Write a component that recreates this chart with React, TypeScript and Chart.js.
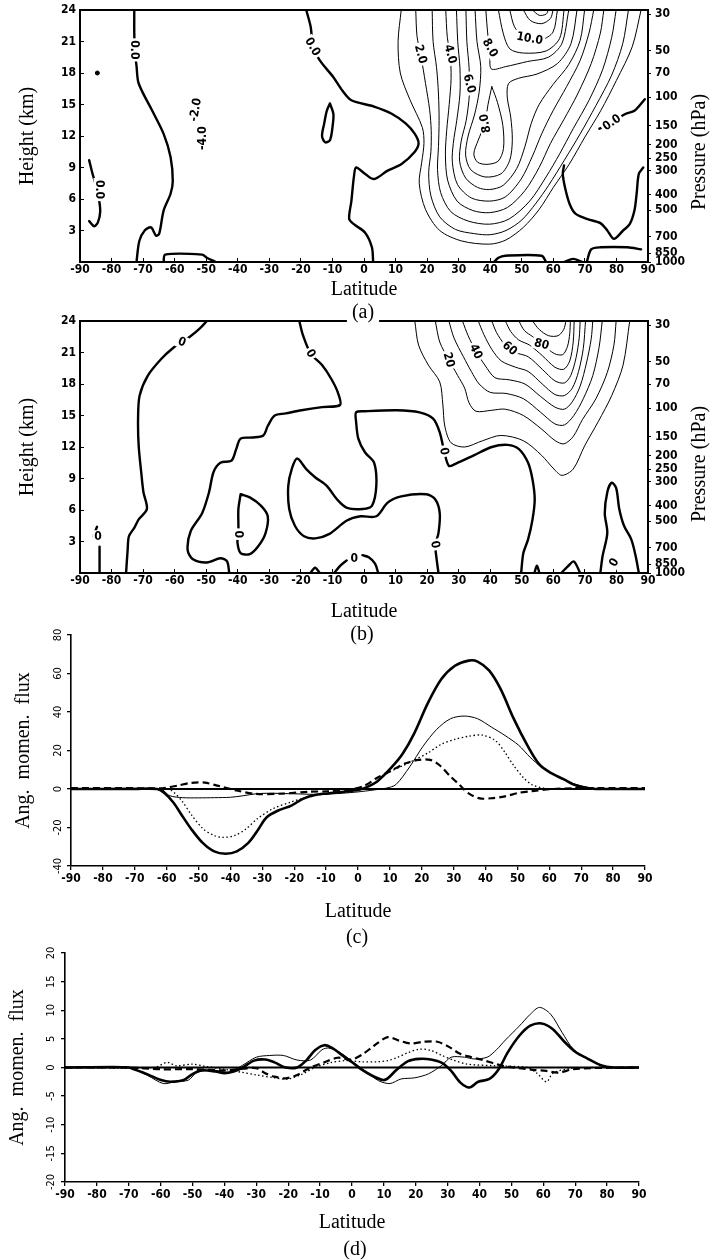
import React, { useEffect, useRef } from 'react';
import { Chart, registerables } from 'chart.js';

Chart.register(...registerables);

type P = [number, number];
type L = [number, number, string, number];

const SERIF = '"Liberation Serif", "Times New Roman", Times, serif';
const NARROW = '"Liberation Sans Narrow", "Arial Narrow", "DejaVu Sans Condensed", "Roboto Condensed", sans-serif';

// ---------------- tick labels ----------------
const LAT_TICKS = [-90, -80, -70, -60, -50, -40, -30, -20, -10, 0, 10, 20, 30, 40, 50, 60, 70, 80, 90];
const HEIGHT_TICKS = [3, 6, 9, 12, 15, 18, 21, 24];
const PRESSURE_LABELS = ['30', '50', '70', '100', '150', '200', '250', '300', '400', '500', '700', '850', '1000'];
const PRESSURE_HEIGHTS = [23.6, 20.1, 18.0, 15.7, 13.0, 11.2, 9.9, 8.7, 6.4, 4.95, 2.4, 0.85, 0.0];
const FLUX_C_TICKS = [-40, -20, 0, 20, 40, 60, 80];
const FLUX_D_TICKS = [-20, -15, -10, -5, 0, 5, 10, 15, 20];

// ---------------- panel (a): contours [lat, height km] ----------------
const A_ZERO_1: P[] = [[-72.8, 24], [-72.8, 21.8], [-72.6, 20], [-72.1, 18.7], [-71.4, 17], [-67.1, 14.4], [-63.5, 12.2], [-61.3, 10], [-60.6, 7.7], [-61.3, 6.5], [-63.5, 4.9], [-64.9, 2.7], [-65.9, 2.5], [-67.5, 3.3], [-69.5, 3.0], [-71.2, 2.0], [-72.1, 0]];
const A_ZERO_2: P[] = [[-87.1, 9.7], [-86.2, 8.6], [-85, 7.3], [-84, 6], [-83.6, 4.8], [-84.3, 3.8], [-85.5, 3.4], [-87.1, 3.9]];
const A_ZERO_3: P[] = [[-18.3, 24], [-16.9, 22.4], [-16.1, 20.5], [-14, 19.2], [-9.7, 17.6], [-6.8, 16.3], [-4, 15.4], [3.2, 14.8], [8.9, 14.1], [13.2, 13.2], [16.1, 12.2], [17.3, 11.3], [16.1, 10.5], [11.8, 9.3], [7.5, 8.7], [3.2, 7.9], [0.3, 8.4], [-2.5, 9.0], [-3.2, 8.1], [-4, 5.8], [-4.7, 4.1], [-3.2, 3.6], [0.3, 2.8], [2.5, 1.4], [2.9, 0]];
const A_ZERO_4: P[] = [[-10.8, 15.1], [-9.7, 14.1], [-10, 12.8], [-10.8, 11.6], [-12.3, 11.4], [-13.3, 12], [-12.6, 13.2], [-11.8, 14.4], [-10.8, 15.1]];
const A_ZERO_5: P[] = [[-63.5, 0], [-63, 0.7], [-51.3, 0.7], [-49.8, 0.4], [-47, 0]];
const A_ZERO_6: P[] = [[89, 15.5], [85.7, 14.4], [82.8, 14.1], [78.5, 13.3], [74.6, 12.7]];
const A_ZERO_7: P[] = [[88.5, 9], [87.1, 8.4], [86.4, 6.5], [85.7, 4.9], [84.2, 3.6], [82.1, 3], [79.2, 2.2], [77.1, 3], [74.9, 3.7], [70.6, 4.1], [67, 4.6], [65.2, 5.5], [63.7, 7.1], [63, 8.4], [63.4, 9.2]];
const A_ZERO_8: P[] = [[41.2, 0], [42.6, 0.4], [44.8, 0.6], [56.3, 0.6], [57.7, 0]];
const A_ZERO_9: P[] = [[63.4, 0], [66.3, 0.3], [69.2, 0]];
const A_ZERO_10: P[] = [[70.6, 0], [72, 1.2], [74.9, 1.4], [83.5, 1.4], [87.8, 1.2]];

const A_C1: P[] = [[11.8, 24], [10.8, 21], [11.5, 18], [14.5, 15.5], [18.5, 12.8], [19, 11.3], [18.3, 9.5], [17.5, 7.5], [19.5, 5], [24, 3], [31, 2], [39.8, 1.7], [45, 2.1], [50.5, 3.3], [55.5, 5], [60, 7.1], [65, 9.3], [70, 11.9], [75, 14.4], [80, 17.3], [85, 20.5], [87.8, 24]];
const A_C2: P[] = [[16.4, 24], [16.8, 21.5], [18, 19.7], [19.5, 17], [20.8, 14.5], [21.3, 12.5], [21.2, 10.5], [20.5, 8.5], [21.2, 6.3], [24, 4.3], [29, 3.1], [35, 2.7], [40, 2.6], [45, 3.0], [50, 4.0], [54.5, 5.6], [58.5, 7.3], [63.5, 9.7], [68.5, 12.2], [73.5, 14.9], [78.5, 17.8], [82, 20.8], [83.8, 24]];
const A_C3: P[] = [[21.6, 24], [21.9, 21], [23, 18.5], [23.6, 16], [23.8, 13.5], [23.6, 11], [23.3, 8.8], [24.3, 6.6], [27.5, 4.8], [33, 3.9], [39.8, 3.6], [46, 4.1], [52.5, 5.8], [57.7, 8.1], [62, 10.3], [66.3, 12.7], [71.3, 15.4], [75.6, 18.3], [78.5, 21.4], [79.9, 24]];
const A_C4: P[] = [[25.9, 24], [26.4, 21.4], [27.3, 19.8], [27.6, 17.5], [27, 15], [26.2, 12.5], [25.8, 10.2], [26.5, 7.8], [29.5, 5.8], [34.5, 4.9], [39.8, 4.7], [45.5, 5.2], [51, 6.8], [55.5, 9], [59.1, 11.3], [63.4, 13.6], [67.7, 16], [72, 18.9], [74.9, 21.8], [76, 24]];
const A_C5: P[] = [[29.3, 24], [29.7, 21], [30.4, 18.5], [30.4, 16], [29.4, 13.5], [28.3, 11.3], [28, 9.5], [29.6, 7.4], [34, 6.1], [39.8, 5.8], [44.8, 6.2], [49.8, 7.9], [53.4, 10.1], [56.3, 12.2], [59.9, 14.4], [64.2, 16.7], [68.5, 19.2], [71.3, 21.8], [72.8, 24]];
const A_C6: P[] = [[32.3, 24], [32.6, 21], [33.3, 18.5], [33.4, 16], [32.4, 13.5], [30.8, 11.5], [30.3, 9.6], [32.2, 8.0], [36, 7.1], [39.8, 6.9], [44.1, 7.3], [48.4, 8.9], [51, 11], [53, 13.2], [55.5, 15], [59.9, 16.9], [64.9, 18.8], [68.5, 21.1], [69.9, 24]];
const A_C7: P[] = [[35.2, 24], [35.8, 21], [37, 18.6], [36.5, 16.2], [35, 14], [33, 12], [32.2, 10.2], [33.8, 8.8], [38.3, 8.1], [43.4, 8.4], [46.2, 9.7], [47, 11.6], [46.5, 13.8], [45.4, 15.7], [45.8, 17], [49, 17.5], [54.8, 17.9], [61.3, 18.9], [65.6, 20.8], [67.5, 24]];
const A_LOOP8: P[] = [[40.5, 16.7], [39.3, 15], [38.3, 13.2], [36.2, 11.6], [34.8, 10.3], [36, 9.5], [39, 9.3], [42.5, 9.6], [44.2, 10.8], [44, 13], [42.3, 15.2], [40.5, 16.7]];
const A_U8: P[] = [[38.6, 24], [39.3, 21.5], [40, 20.2], [40.3, 18.4], [44.8, 18.6], [51.9, 19.1], [58.4, 19.5], [62.7, 20.8], [64.9, 24]];
const A_U9: P[] = [[42.6, 24], [44.1, 21.8], [46.2, 20.3], [50.5, 19.9], [57.7, 20.1], [62, 21.3], [63.4, 24]];
const A_U10: P[] = [[46.2, 24], [47.7, 22.4], [50.5, 21.5], [56.3, 21.2], [59.9, 21.9], [61.3, 24]];
const A_U11: P[] = [[50.5, 24], [52.7, 23], [56.3, 22.7], [59.1, 23.2], [59.9, 24]];
const A_U12: P[] = [[53.4, 24], [55.5, 23.5], [57.7, 23.6], [58.4, 24]];
const A_DOT: P[] = [[-84.5, 18.0]];

const A_LABELS: L[] = [
  [-72.8, 20.2, '0.0', 90], [-83.8, 6.9, '0.0', 90], [-53.4, 14.5, '-2.0', -80], [-51.3, 11.8, '-4.0', -90],
  [-16.3, 20.5, '0.0', 60], [18.0, 19.8, '2.0', 75], [27.4, 19.8, '4.0', 75], [33.4, 17.0, '6.0', 75],
  [40.0, 20.4, '8.0', 60], [52.5, 21.3, '10.0', 10], [38.4, 13.2, '8.0', -100], [78.5, 13.3, '0.0', -35],
];

// ---------------- panel (b): contours [lat, height km] ----------------
const B_ZERO_1: P[] = [[-49.8, 24], [-52, 23.3], [-55.6, 22.4], [-57.7, 22], [-60.6, 21.4], [-64.2, 20.4], [-68.5, 18.8], [-71.1, 16.9], [-71.6, 14.7], [-71.4, 12.1], [-70.6, 9.6], [-69.9, 7.7], [-68.8, 6.1], [-71.4, 5.1], [-72.8, 4.3], [-74.5, 3.5], [-74.9, 2.2], [-75.4, 0]];
const B_ZERO_2: P[] = [[-83.8, 0], [-83.8, 2.5]];
const B_ZERO_2B: P[] = [[-84.6, 4.4], [-85.8, 3.5]];
const B_ZERO_3: P[] = [[-20.5, 24], [-19.4, 22.7], [-16.9, 20.9], [-13.3, 19.8], [-10.4, 18.5], [-8.3, 17.2], [-7.6, 16], [-13.3, 15.8], [-19.8, 15.5], [-24.8, 15.2], [-28.3, 15], [-30.5, 14], [-31.9, 13.1], [-35.5, 12.9], [-39.1, 12.8], [-40.5, 11.8], [-42, 10.7], [-45.5, 10.5], [-47.7, 9.6], [-49.1, 7.7], [-51.3, 5.7], [-54.9, 4], [-55.9, 2.2], [-54.2, 1.3], [-49.8, 1], [-45.5, 1.4], [-43.4, 1.1], [-42.7, 0]];
const B_ZERO_4: P[] = [[-39.1, 7.5], [-36.2, 7.2], [-32.6, 6.4], [-30.5, 5.4], [-31.2, 3.8], [-33.4, 2.6], [-36.2, 1.8], [-39.1, 1.9], [-40.1, 2.9], [-39.8, 3.7], [-39.8, 4.5], [-39.8, 6.1], [-39.1, 7.5]];
const B_ZERO_6: P[] = [[23.6, 0], [22.9, 1.6], [22.6, 2.7], [23.6, 3.8], [24.0, 5.7], [22.6, 7.0], [19.7, 7.5], [11.8, 7.3], [7.5, 6.7], [3.9, 5.4], [-1.1, 5.4], [-5.4, 5.0], [-11.1, 3.7], [-15.4, 3.3], [-19.0, 3.5], [-21.9, 4.5], [-23.7, 6.1], [-24.0, 8.3], [-22.9, 9.9], [-21.2, 10.9], [-18.3, 9.9], [-15.4, 9.1], [-11.8, 8.3], [-8.5, 7.0], [-5.4, 6.2], [-0.4, 6.1], [2.5, 6.4], [3.9, 8.3], [3.2, 10.5], [0.3, 11.5], [-1.8, 12.8], [-2.5, 14.4], [-2.5, 15.3], [0.3, 15.4], [10.4, 15.5], [17.6, 15.3], [21.9, 14.7], [24.0, 13.4], [25.4, 11.6], [26.9, 10.2], [29.0, 10.4], [34.8, 11.2], [40.5, 12.0], [45.5, 12.2], [49.1, 11.8], [52.0, 10.5], [53.4, 8.9], [54.1, 7.0], [53.4, 5.1], [52.0, 3.2], [50.5, 1.9], [49.8, 0]];
const B_ZERO_7: P[] = [[-9.5, 0], [-7.5, 0.7], [-5.5, 1.2]];
const B_ZERO_8: P[] = [[-0.5, 1.7], [1.5, 1.5], [3.5, 0.9], [4.5, 0]];
const B_ZERO_9: P[] = [[74.9, 0], [75.6, 1.6], [77.1, 3.8], [76.3, 5.7], [77.1, 7.7], [78.5, 8.6], [79.9, 8.1], [80.9, 6.1], [82.4, 4.5], [84.7, 3.2], [86.1, 1.6], [87.1, 0]];
const B_BUMP_1: P[] = [[-17, 0], [-15.5, 0.5], [-14, 0]];
const B_BUMP_2: P[] = [[54, 0], [54.8, 0.7], [55.6, 0]];
const B_BUMP_3: P[] = [[62.5, 0], [64.5, 0.6], [66.5, 1.1], [68.5, 0]];

const B_P1: P[] = [[16.1, 24], [17.3, 21.7], [20.4, 19.8], [24, 18.2], [25, 16], [25.6, 14], [27.6, 12.4], [31.9, 12], [37.6, 12.6], [43.4, 13.1], [50.5, 12.6], [56.3, 11.2], [59.9, 10], [62.7, 9.3], [66.3, 9.9], [69.9, 12.1], [74.2, 14.4], [78.5, 16.9], [82.1, 19.8], [84.2, 24]];
const B_P2: P[] = [[22.6, 24], [24, 22], [26.9, 20.3], [29.7, 18.8], [31.9, 17.6], [33.3, 16.2], [35.5, 15.4], [40.5, 15.5], [44.8, 15.6], [50.5, 15], [56.3, 13.7], [60.6, 12.6], [63.4, 12.3], [66.3, 13], [69.2, 14.6], [73.5, 16.6], [77.1, 19.1], [79.2, 21.7], [79.9, 24]];
const B_P3: P[] = [[26.9, 24], [28.5, 22.4], [31.5, 20.6], [34, 19.2], [36.5, 18], [40, 17.2], [45, 17.1], [50.5, 16.6], [56, 15.3], [60.5, 14.2], [63.5, 14.1], [66.5, 15], [69.5, 16.6], [72.5, 18.8], [74.5, 21.5], [75.5, 24]];
const B_P4: P[] = [[31.2, 24], [33, 22.6], [35.5, 21.1], [38.3, 19.8], [41.5, 18.6], [46, 18.4], [51, 18], [56, 16.8], [60.5, 15.8], [63.5, 15.6], [66, 16.3], [68.5, 17.8], [70.5, 20], [72, 22.3], [72.5, 24]];
const B_P5: P[] = [[36.2, 24], [38, 22.7], [40.5, 21.3], [43.5, 20.2], [48, 19.6], [52, 19.2], [56.5, 18], [60.5, 17], [63.5, 16.9], [66, 17.6], [68, 19.2], [69.5, 21.4], [70.2, 24]];
const B_P6: P[] = [[40.5, 24], [42, 22.9], [44.5, 21.8], [48, 21], [52, 20.6], [56.5, 19.4], [60.5, 18.3], [63.5, 18.1], [65.5, 18.8], [67.2, 20.5], [68.2, 22.4], [68.5, 24]];
const B_P7: P[] = [[44.8, 24], [46.5, 23], [49, 22.2], [52.5, 21.7], [56.5, 20.7], [60.5, 19.6], [63.3, 19.4], [65.2, 20.2], [66.3, 22], [66.6, 24]];
const B_P8: P[] = [[49.1, 24], [50.8, 23.1], [53.5, 22.5], [56.5, 21.8], [60.3, 20.9], [63, 20.8], [64.5, 21.6], [65.2, 22.8], [65.4, 24]];
const B_P9: P[] = [[53.4, 24], [55.5, 23.2], [58.5, 22.6], [61.5, 22.6], [63.3, 23.2], [64, 24]];

const B_LABELS: L[] = [
  [-57.7, 22.0, '0', 20], [-16.9, 20.9, '0', 60], [-84.3, 3.5, '0', 0], [-39.8, 3.7, '0', 90],
  [-3.1, 1.4, '0', 0], [25.4, 11.6, '0', 80], [22.6, 2.7, '0', 80], [79.2, 1.0, '0', -60],
  [26.9, 20.3, '20', 75], [35.5, 21.1, '40', 65], [46.2, 21.4, '60', 40], [56.3, 21.8, '80', 15],
];

// ---------------- panel (c): angular momentum flux [lat, value] ----------------
const C_TOTAL: P[] = [[-90, 0], [-80, 0], [-70, 0], [-63, 0], [-60.8, -2], [-57.9, -7], [-55.1, -14], [-52.2, -21], [-48.7, -28], [-45.1, -32.4], [-41.5, -33.6], [-38, -32.4], [-34.4, -28], [-31.6, -21.8], [-28.7, -14.8], [-25.2, -11.3], [-20.9, -8.6], [-17.3, -5.1], [-13.8, -3.2], [-9.5, -2.3], [-3.8, -1.3], [0.5, -0.3], [3.3, 1.4], [6.2, 4.2], [10.5, 11.2], [14, 18.3], [17.6, 28.8], [21.9, 44.6], [26.1, 57], [30.4, 64], [34.7, 66.7], [37.5, 66.2], [41.1, 61.6], [44.7, 52], [48.9, 36.3], [53.2, 22.4], [56.8, 12.9], [60.3, 8.5], [64.6, 5], [67.5, 2.4], [70.3, 1], [73, 0.3], [76, 0], [90, 0]];
const C_THIN: P[] = [[-90, 0], [-62, 0], [-59, -3.5], [-55, -4.5], [-50, -4.6], [-45, -4.5], [-40, -4.3], [-36, -3.5], [-32, -2.5], [-28, -2.2], [-20, -2.5], [-12, -2.8], [-5, -2.2], [0, -1.5], [5, -0.5], [9, 0.5], [11.9, 2.3], [16.2, 11.5], [20.4, 22.2], [24.7, 31], [29, 36.5], [33.3, 37.9], [37.5, 36.5], [41.8, 32.2], [46.1, 27.8], [50.4, 22.7], [53.9, 16.6], [57.5, 11.4], [61.8, 7.1], [66.1, 3.7], [70.3, 1.5], [74, 0.3], [78, 0], [90, 0]];
const C_DOTTED: P[] = [[-90, 0], [-60, 0], [-57.9, -1.5], [-55.1, -6.5], [-52.2, -13.5], [-48.7, -20.5], [-45.1, -24.2], [-42.3, -25.1], [-38.7, -24.2], [-35.1, -20.7], [-31.6, -15.5], [-26.6, -10.2], [-20.9, -6.7], [-15.2, -4], [-9.5, -2.5], [-0.9, -1], [4.8, 2.5], [9, 8], [13.3, 11.5], [17.6, 15], [21.9, 18.7], [26.1, 23.2], [30.4, 25.8], [34.7, 27.4], [39, 28], [43.2, 25], [46.1, 19], [48.9, 12], [51.8, 6], [54.6, 2.2], [58, 0.5], [62, 0], [90, 0]];
const C_DASHED: P[] = [[-90, 0.5], [-75, 0.5], [-65, 0.3], [-60.8, 0.5], [-56.5, 1.8], [-52.2, 3.2], [-48, 3.3], [-43.7, 1.6], [-38, -0.8], [-32.3, -2.5], [-23.7, -2.4], [-15.2, -1.4], [-9.5, -1.2], [-2.4, -0.2], [1.9, 1.6], [6.2, 6], [10.5, 9.6], [14.7, 13.2], [19, 15.1], [22.6, 15.1], [25.4, 12.6], [29, 6.5], [31.8, 2.2], [34.7, -2.3], [38.2, -4.9], [41.8, -4.8], [46.1, -3.8], [50.4, -2], [54.6, -1.1], [60.3, -0.1], [67.4, 0.4], [75, 0.5], [90, 0.5]];

// ---------------- panel (d): angular momentum flux [lat, value] ----------------
const D_TOTAL: P[] = [[-90, 0], [-75, 0.1], [-70, 0], [-68.4, -0.3], [-64.1, -1.2], [-59.9, -2.2], [-57, -2.5], [-52.8, -2.2], [-49.9, -1.1], [-47.1, -0.5], [-42.8, -0.7], [-40, -1], [-37.1, -0.7], [-34.3, 0], [-30.7, 1.2], [-27.2, 1.4], [-24.3, 0.9], [-20.8, 0], [-17.2, 0], [-14.4, 1.2], [-11.6, 3], [-8.7, 3.9], [-5.9, 3.3], [-3, 2.1], [-0.2, 1], [2.6, -0.2], [6.2, -1.4], [9.8, -2.2], [11.2, -1.9], [14, -0.4], [17.6, 1.1], [21.1, 1.5], [24.7, 1.4], [28.2, 0.8], [31.1, -0.6], [33.9, -2.6], [36.8, -3.5], [39.6, -2.5], [43.1, -2], [46, -0.3], [48.8, 2.6], [52.4, 5.5], [55.9, 7.3], [59.5, 7.7], [63, 6.7], [66.6, 4.5], [70.1, 2.7], [73.7, 1.6], [78, 0.4], [82, 0], [90, 0]];
const D_THIN: P[] = [[-90, 0], [-70, 0], [-64.1, -1.4], [-59.2, -2.8], [-55.6, -2.5], [-51.3, -2.2], [-48.5, -0.8], [-42.8, -0.5], [-38.6, -0.8], [-34.3, 0.4], [-30, 1.8], [-25.8, 2.1], [-21.5, 2.1], [-17.2, 1.3], [-13, 1.3], [-9.4, 3.1], [-7.3, 3.4], [-3.7, 2.6], [-0.2, 1.2], [4.1, -0.6], [8.3, -2.3], [11.9, -2.8], [15.4, -2], [19.7, -1.8], [24, -1.1], [28.2, 0.4], [31.1, 1.8], [35.3, 1.8], [38.2, 1.5], [42.4, 1.8], [45.3, 3.1], [48.1, 4.8], [52.4, 7.2], [55.9, 9.3], [58.8, 10.5], [62.3, 9.3], [65.9, 6.1], [69.4, 3.2], [73.7, 1.6], [78, 0.4], [82, 0], [90, 0]];
const D_DOTTED: P[] = [[-90, 0], [-62, 0], [-58, 0.9], [-55, 0.3], [-50, 0.6], [-46, 0.2], [-40, -0.3], [-35, -0.8], [-30, -1.3], [-24.3, -1.8], [-20.1, -2], [-15.8, -1.2], [-11.6, 0], [-7, 0.8], [-2, 1.2], [3, 1], [8, 1], [11.2, 1.2], [14, 1.7], [17.6, 2.6], [21.1, 3.2], [24.7, 3], [28.2, 2.1], [31.8, 1.3], [36, 0.6], [45, 0.3], [55, 0], [58, -1], [61, -2.5], [63, -1], [68, -0.2], [75, 0], [90, 0]];
const D_DASHED: P[] = [[-90, 0], [-70, 0], [-60, -0.3], [-50, -0.3], [-40, -0.5], [-34, -0.2], [-30, -0.1], [-27.2, -1], [-24.3, -1.6], [-20.8, -1.9], [-17.2, -1.3], [-13, 0], [-8.7, 0.9], [-4.5, 1.7], [-0.2, 1.4], [3.3, 2.3], [6.9, 3.8], [11.2, 5.3], [14.7, 4.7], [18.3, 4.2], [22.5, 4.5], [26.8, 4.5], [30.4, 3.6], [33.9, 2.4], [37.5, 1.8], [41, 1.3], [44.6, 0.7], [48.1, 0.2], [52.4, -0.1], [56.6, -0.4], [60.9, -0.6], [64.5, -0.9], [69.4, -0.3], [75, -0.1], [90, 0]];

const ZERO_LINE: P[] = [[-90, 0], [90, 0]];

// ---------------- helpers ----------------
function lineDs(pts: P[], width: number, dash: number[] = [], tension = 0.3) {
  return {
    data: pts.map((p) => ({ x: p[0], y: p[1] })),
    showLine: true,
    borderColor: '#000',
    backgroundColor: '#000',
    borderWidth: width,
    borderDash: dash,
    borderCapStyle: dash.length ? 'butt' : 'round',
    borderJoinStyle: 'round',
    pointRadius: 0,
    tension,
    fill: false,
    xAxisID: 'x',
    yAxisID: 'y',
  };
}

type TextItem = { text: string; x: number; y: number; rot?: number; font: string; bg?: boolean };

function makeAnnot(labels: L[], labelFont: string, texts: TextItem[]) {
  return {
    id: 'annot',
    afterDatasetsDraw(chart: any) {
      const ctx = chart.ctx;
      const xs = chart.scales.x;
      const ys = chart.scales.y;
      for (const [lat, h, text, rot] of labels) {
        const px = xs.getPixelForValue(lat);
        const py = ys.getPixelForValue(h);
        ctx.save();
        ctx.translate(px, py);
        ctx.rotate((rot * Math.PI) / 180);
        ctx.font = labelFont;
        ctx.textAlign = 'center';
        ctx.textBaseline = 'middle';
        const w = ctx.measureText(text).width;
        ctx.fillStyle = '#fff';
        ctx.fillRect(-w / 2 - 2, -6, w + 4, 12);
        ctx.fillStyle = '#000';
        ctx.fillText(text, 0, 0.5);
        ctx.restore();
      }
    },
    afterDraw(chart: any) {
      const ctx = chart.ctx;
      for (const t of texts) {
        ctx.save();
        ctx.font = t.font;
        ctx.textAlign = 'center';
        ctx.textBaseline = 'middle';
        ctx.translate(t.x, t.y);
        ctx.rotate(((t.rot || 0) * Math.PI) / 180);
        if (t.bg) {
          const w = ctx.measureText(t.text).width;
          ctx.fillStyle = '#fff';
          ctx.fillRect(-w / 2 - 5, -11, w + 10, 22);
        }
        ctx.fillStyle = '#000';
        ctx.fillText(t.text, 0, 0);
        ctx.restore();
      }
    },
  };
}

const tickFont = (size: number, bold = true) => ({ family: NARROW, size, weight: bold ? 'bold' : 'normal' });

function contourConfig(o: {
  thick: P[][]; thin: P[][]; dots?: P[]; labels: L[]; texts: TextItem[];
  padTop: number; xAxisH: number; titlePB: number; yTitlePad: number;
}) {
  const datasets: any[] = [
    ...o.thick.map((p) => lineDs(p, 2.4)),
    ...o.thin.map((p) => lineDs(p, 1)),
  ];
  if (o.dots) {
    datasets.push({ data: o.dots.map((p) => ({ x: p[0], y: p[1] })), pointRadius: 2, backgroundColor: '#000', borderColor: '#000', showLine: false, xAxisID: 'x', yAxisID: 'y' });
  }
  return {
    type: 'scatter',
    data: { datasets },
    options: {
      responsive: false,
      animation: false,
      events: [],
      layout: { padding: { top: o.padTop, left: 0, right: 0, bottom: 0 } },
      plugins: { legend: { display: false }, tooltip: { enabled: false } },
      scales: {
        x: {
          type: 'linear', position: 'bottom', min: -90, max: 90,
          afterBuildTicks: (s: any) => { s.ticks = LAT_TICKS.map((v) => ({ value: v })); },
          afterFit: (s: any) => { s.height = o.xAxisH; s.paddingLeft = 0; s.paddingRight = 0; },
          ticks: { autoSkip: false, minRotation: 0, maxRotation: 0, padding: 5, color: '#000', font: tickFont(12), callback: (v: number) => String(v) },
          grid: { drawOnChartArea: false, drawTicks: true, tickLength: -4, color: '#000', lineWidth: 1 },
          border: { display: true, color: '#000', width: 2 },
          title: { display: true, text: 'Latitude', color: '#000', font: { family: SERIF, size: 20 }, padding: { top: 0, bottom: o.titlePB } },
        },
        xTop: {
          type: 'linear', position: 'top', min: -90, max: 90, display: true,
          afterFit: (s: any) => { s.height = 0; s.paddingLeft = 0; s.paddingRight = 0; },
          ticks: { display: false },
          grid: { drawOnChartArea: false, drawTicks: false },
          border: { display: true, color: '#000', width: 2 },
        },
        y: {
          type: 'linear', position: 'left', min: 0, max: 24,
          afterBuildTicks: (s: any) => { s.ticks = HEIGHT_TICKS.map((v) => ({ value: v })); },
          afterFit: (s: any) => { s.width = 80; s.paddingTop = 0; s.paddingBottom = 0; },
          ticks: { autoSkip: false, padding: 8, color: '#000', font: tickFont(12), callback: (v: number) => String(v) },
          grid: { drawOnChartArea: false, drawTicks: true, tickLength: -4, color: '#000' },
          border: { display: true, color: '#000', width: 2 },
          title: { display: true, text: 'Height (km)', color: '#000', font: { family: SERIF, size: 20 }, padding: { top: o.yTitlePad, bottom: 0 } },
        },
        yP: {
          type: 'linear', position: 'right', min: 0, max: 24,
          afterBuildTicks: (s: any) => { s.ticks = PRESSURE_HEIGHTS.map((v) => ({ value: v })); },
          afterFit: (s: any) => { s.width = 65; s.paddingTop = 0; s.paddingBottom = 0; },
          ticks: { autoSkip: false, padding: 4, color: '#000', font: tickFont(12), callback: (_v: number, i: number) => PRESSURE_LABELS[i] },
          grid: { drawOnChartArea: false, drawTicks: true, tickLength: 3, color: '#000' },
          border: { display: true, color: '#000', width: 2 },
        },
      },
    },
    plugins: [makeAnnot(o.labels, `bold 12px ${NARROW}`, o.texts)],
  };
}

function fluxConfig(o: {
  total: P[]; thin: P[]; dotted: P[]; dashed: P[]; yMin: number; yMax: number; yTicks: number[];
  padTop: number; padRight: number; yWidth: number; xAxisH: number; titlePB: number; yTitlePad: number; yTickPad: number;
  texts: TextItem[];
}) {
  const datasets = [
    lineDs(ZERO_LINE, 2.2, [], 0),
    lineDs(o.dashed, 2.2, [7, 4]),
    lineDs(o.dotted, 1.3, [1.5, 2.5]),
    lineDs(o.thin, 1),
    lineDs(o.total, 2.6),
  ];
  return {
    type: 'scatter',
    data: { datasets },
    options: {
      responsive: false,
      animation: false,
      events: [],
      layout: { padding: { top: o.padTop, left: 0, right: o.padRight, bottom: 0 } },
      plugins: { legend: { display: false }, tooltip: { enabled: false } },
      scales: {
        x: {
          type: 'linear', position: 'bottom', min: -90, max: 90,
          afterBuildTicks: (s: any) => { s.ticks = LAT_TICKS.map((v) => ({ value: v })); },
          afterFit: (s: any) => { s.height = o.xAxisH; s.paddingLeft = 0; s.paddingRight = 0; },
          ticks: { autoSkip: false, minRotation: 0, maxRotation: 0, padding: 2, color: '#000', font: tickFont(12), callback: (v: number) => String(v) },
          grid: { drawOnChartArea: false, drawTicks: true, tickLength: 4, color: '#000', lineWidth: 1.3 },
          border: { display: true, color: '#000', width: 1.6 },
          title: { display: true, text: 'Latitude', color: '#000', font: { family: SERIF, size: 20 }, padding: { top: 0, bottom: o.titlePB } },
        },
        y: {
          type: 'linear', position: 'left', min: o.yMin, max: o.yMax,
          afterBuildTicks: (s: any) => { s.ticks = o.yTicks.map((v) => ({ value: v })); },
          afterFit: (s: any) => { s.width = o.yWidth; s.paddingTop = 0; s.paddingBottom = 0; },
          ticks: { autoSkip: false, minRotation: 90, maxRotation: 90, crossAlign: 'center', padding: o.yTickPad, color: '#000', font: tickFont(11, false), callback: (v: number) => String(v) },
          grid: { drawOnChartArea: false, drawTicks: true, tickLength: 4, color: '#000', lineWidth: 1.3 },
          border: { display: true, color: '#000', width: 1.6 },
          title: { display: true, text: 'Ang.  momen.  flux', color: '#000', font: { family: SERIF, size: 20 }, padding: { top: o.yTitlePad, bottom: 0 } },
        },
      },
    },
    plugins: [makeAnnot([], `12px ${NARROW}`, o.texts)],
  };
}

function ChartCanvas({ top, height, z, build }: { top: number; height: number; z: number; build: () => any }) {
  const ref = useRef<HTMLCanvasElement | null>(null);
  useEffect(() => {
    const chart = new Chart(ref.current as HTMLCanvasElement, build());
    return () => chart.destroy();
  }, []);
  return (
    <canvas
      ref={ref}
      width={713}
      height={height}
      style={{ position: 'absolute', left: 0, top, width: 713, height, zIndex: z, display: 'block' }}
    />
  );
}

const TITLE_FONT = `20px ${SERIF}`;

export default function App() {
  useEffect(() => {
    document.body.style.margin = '0';
    document.body.style.background = '#fff';
  }, []);

  return (
    <div style={{ position: 'relative', width: 713, height: 1260, background: '#fff', overflow: 'hidden' }}>
      <ChartCanvas
        top={0}
        height={326}
        z={4}
        build={() =>
          contourConfig({
            thick: [A_ZERO_1, A_ZERO_2, A_ZERO_3, A_ZERO_4, A_ZERO_5, A_ZERO_6, A_ZERO_7, A_ZERO_8, A_ZERO_9, A_ZERO_10],
            thin: [A_C1, A_C2, A_C3, A_C4, A_C5, A_C6, A_C7, A_LOOP8, A_U8, A_U9, A_U10, A_U11, A_U12],
            dots: A_DOT,
            labels: A_LABELS,
            texts: [
              { text: '(a)', x: 363, y: 313, font: TITLE_FONT, bg: true },
              { text: 'Pressure (hPa)', x: 700, y: 152, rot: -90, font: TITLE_FONT },
            ],
            padTop: 10, xAxisH: 64, titlePB: 24, yTitlePad: 16,
          })
        }
      />
      <ChartCanvas
        top={310}
        height={340}
        z={3}
        build={() =>
          contourConfig({
            thick: [B_ZERO_1, B_ZERO_2, B_ZERO_2B, B_ZERO_3, B_ZERO_4, B_ZERO_6, B_ZERO_7, B_ZERO_8, B_ZERO_9, B_BUMP_1, B_BUMP_2, B_BUMP_3],
            thin: [B_P1, B_P2, B_P3, B_P4, B_P5, B_P6, B_P7, B_P8, B_P9],
            labels: B_LABELS,
            texts: [
              { text: '(b)', x: 362, y: 325, font: TITLE_FONT },
              { text: 'Pressure (hPa)', x: 700, y: 154, rot: -90, font: TITLE_FONT },
            ],
            padTop: 11, xAxisH: 77, titlePB: 26, yTitlePad: 16,
          })
        }
      />
      <ChartCanvas
        top={610}
        height={340}
        z={2}
        build={() =>
          fluxConfig({
            total: C_TOTAL, thin: C_THIN, dotted: C_DOTTED, dashed: C_DASHED,
            yMin: -40, yMax: 80, yTicks: FLUX_C_TICKS,
            padTop: 25, padRight: 68, yWidth: 71, xAxisH: 84, titlePB: 26, yTitlePad: 12, yTickPad: 1,
            texts: [{ text: '(c)', x: 357, y: 328, font: TITLE_FONT }],
          })
        }
      />
      <ChartCanvas
        top={940}
        height={320}
        z={1}
        build={() =>
          fluxConfig({
            total: D_TOTAL, thin: D_THIN, dotted: D_DOTTED, dashed: D_DASHED,
            yMin: -20, yMax: 20, yTicks: FLUX_D_TICKS,
            padTop: 13, padRight: 74, yWidth: 65, xAxisH: 78, titlePB: 25, yTitlePad: 6, yTickPad: 2,
            texts: [{ text: '(d)', x: 355, y: 310, font: TITLE_FONT }],
          })
        }
      />
    </div>
  );
}
